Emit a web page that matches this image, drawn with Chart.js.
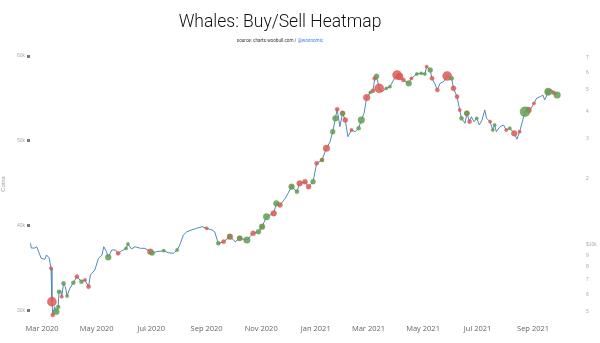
<!DOCTYPE html>
<html>
<head>
<meta charset="utf-8">
<script src="https://cdn.jsdelivr.net/npm/chart.js@4.4.1/dist/chart.umd.min.js"></script>
<style>
html, body { margin: 0; padding: 0; background: #fff; }
#wrap { width: 600px; height: 343px; }
</style>
</head>
<body>
<div id="wrap"><canvas id="heatmap"></canvas></div>
<script>
// x values are days counted from 2020-01-01 (day 60 = 1 Mar 2020)
const days = [47, 48, 52, 54, 59, 63, 65, 68, 70, 71, 72, 74, 76, 78, 79, 81, 82, 84, 86, 88,
  91, 95, 99, 104, 108, 112, 114, 119, 123, 127, 129, 132, 134, 138, 142, 145, 149, 154, 156, 160,
  164, 170, 175, 181, 183, 188, 196, 201, 207, 211, 214, 218, 222, 227, 233, 239, 244, 250, 253, 257,
  263, 270, 276, 281, 289, 296, 302, 306, 311, 319, 322, 326, 332, 335, 339, 345, 348, 354, 358, 363,
  367, 373, 378, 382, 385, 388, 390, 393, 396, 399, 402, 406, 410, 414, 417, 420, 423, 427, 430, 432,
  434, 437, 440, 445, 449, 453, 457, 460, 464, 470, 473, 479, 484, 488, 490, 494, 496, 499, 502, 505,
  509, 513, 518, 520, 524, 527, 529, 533, 535, 538, 540, 543, 546, 549, 552, 555, 557, 561, 564, 566,
  568, 572, 576, 579, 583, 588, 591, 594, 597, 600, 604, 607, 610, 613, 617, 620, 622, 626, 630, 632, 636];

const price = [10180, 9690, 9690, 9825, 8710, 8620, 9015, 8740, 7855, 5554, 4838, 5273, 5006, 5256, 6160, 6225, 5850, 6720, 6490, 5890,
  6380, 6760, 7200, 6835, 6960, 6490, 7325, 7715, 8710, 9015, 9825, 9330, 8805, 9495, 9495, 9175, 9396, 9664, 10104, 9594,
  9825, 9664, 9664, 9330, 9205, 9330, 9426, 9232, 9175, 9495, 10000, 11092, 11478, 11684, 11890, 12090, 11890, 11684, 11478, 10178,
  10348, 10900, 10348, 10720, 10532, 11290, 11478, 12090, 13410, 13890, 15410, 15140, 16235, 17100, 18310, 17385, 18960, 19280, 18310, 19280,
  23335, 24150, 27270, 29200, 32390, 37220, 40870, 34120, 39200, 36570, 30750, 32960, 32390, 33560, 36570, 39200, 46170, 48630, 49500, 56340,
  57520, 50800, 49030, 50800, 51650, 55350, 58320, 57300, 55350, 53490, 56340, 58920, 59340, 58920, 63570, 61420, 56340, 53490, 49910, 53490,
  54400, 57720, 56340, 50800, 46560, 40570, 37220, 35340, 39200, 35930, 37840, 35930, 37220, 34720, 36570, 40570, 37220, 35930, 32960, 34720,
  32390, 34120, 34720, 32960, 33560, 31850, 29930, 32390, 35930, 39860, 40570, 41290, 43480, 45800, 46560, 47390, 45000, 49030, 49910, 48530, 47390];

// whale sells (red) and buys (green): day and coins moved
const sellDays = [70, 71, 72, 82, 99, 108, 112, 145, 181, 244, 263, 270, 281, 296, 306, 319, 326, 339, 348, 354,
  358, 367, 373, 378, 390, 396, 399, 406, 423, 430, 432, 437, 457, 460, 464, 473, 490, 496, 502, 513,
  520, 524, 527, 535, 538, 561, 579, 588, 594, 604, 610, 626, 632];
const sellCoins = [1600, 12100, 2500, 1600, 2500, 1600, 2500, 2500, 4900, 1600, 2500, 4900, 3600, 3600, 2500, 4900, 3600, 1600, 4900, 3600,
  3600, 2500, 2500, 6400, 2500, 3600, 3600, 1600, 6400, 2500, 2500, 12100, 12100, 6400, 2500, 1600, 1600, 2500, 2500, 12100,
  3600, 2500, 1600, 3600, 2500, 1600, 1600, 4900, 1600, 4900, 1600, 3600, 2500];

const buyDays = [76, 78, 79, 84, 88, 95, 104, 134, 154, 156, 183, 196, 211, 257, 270, 281, 289, 302, 306, 311,
  322, 339, 345, 363, 373, 385, 388, 396, 414, 417, 427, 434, 445, 449, 470, 479, 484, 488, 494, 518,
  529, 535, 546, 564, 566, 583, 600, 626, 636];
const buyCoins = [4900, 2500, 2500, 2500, 1600, 2500, 2500, 4900, 1600, 1600, 3600, 1600, 1600, 2500, 2500, 3600, 6400, 3600, 4900, 6400,
  4900, 4900, 2500, 3600, 1600, 3600, 4900, 2500, 2500, 6400, 1600, 3600, 1600, 1600, 4900, 1600, 1600, 1600, 3600, 2500,
  2500, 3600, 1600, 1600, 1600, 1600, 14400, 8100, 6400];

const monthTicks = [60, 121, 182, 244, 305, 366, 425, 486, 547, 609];
const monthLabels = ['Mar 2020', 'May 2020', 'Jul 2020', 'Sep 2020', 'Nov 2020', 'Jan 2021', 'Mar 2021', 'May 2021', 'Jul 2021', 'Sep 2021'];
const priceTicks = [5000, 6000, 7000, 8000, 9000, 10000, 20000, 30000, 40000, 50000, 60000, 70000];
const coinTicks = [30000, 40000, 50000, 60000];

const linePoints = days.map((d, i) => ({ x: d, y: price[i] }));

function bubbles(list, coins) {
  return list.map((d, i) => ({ x: d, y: price[days.indexOf(d)], r: Math.sqrt(coins[i]) / 24 }));
}

const header = {
  id: 'header',
  afterDraw(chart) {
    const ctx = chart.ctx;
    const cx = 280;
    ctx.save();
    ctx.textBaseline = 'middle';
    ctx.textAlign = 'center';
    ctx.fillStyle = '#111';
    ctx.font = '300 17.5px Roboto';
    ctx.fillText('Whales: Buy/Sell Heatmap', cx, 23);

    ctx.font = '4.6px Roboto';
    const a = 'source: charts.woobull.com / ';
    const b = '@woonomic';
    const wa = ctx.measureText(a).width;
    const wb = ctx.measureText(b).width;
    const x0 = cx - (wa + wb) / 2;
    ctx.textAlign = 'left';
    ctx.fillStyle = '#333';
    ctx.fillText(a, x0, 41);
    ctx.fillStyle = '#3b7ddd';
    ctx.fillText(b, x0 + wa, 41);
    ctx.restore();
  }
};

const ctx = document.getElementById('heatmap').getContext('2d');
const chart = new Chart(ctx, {
  type: 'line',
  data: {
    datasets: [{
      type: 'bubble',
      label: 'Buy',
      data: bubbles(buyDays, buyCoins),
      backgroundColor: 'rgba(100, 160, 82, 0.85)',
      borderColor: 'rgba(80, 140, 65, 0.6)',
      borderWidth: 0.5,
      yAxisID: 'price',
      order: 1
    }, {
      type: 'bubble',
      label: 'Sell',
      data: bubbles(sellDays, sellCoins),
      backgroundColor: 'rgba(220, 92, 86, 0.85)',
      borderColor: 'rgba(200, 70, 65, 0.6)',
      borderWidth: 0.5,
      yAxisID: 'price',
      order: 2
    }, {
      label: 'Price',
      data: linePoints,
      borderColor: '#5289b8',
      borderWidth: 1,
      pointRadius: 0,
      tension: 0,
      fill: false,
      yAxisID: 'price',
      order: 3
    }]
  },
  options: {
    responsive: true,
    maintainAspectRatio: false,
    animation: false,
    layout: { padding: { top: 50 } },
    plugins: {
      legend: { display: false },
      tooltip: { enabled: false }
    },
    scales: {
      x: {
        type: 'linear',
        min: 46.5,
        max: 661.5,
        afterBuildTicks: axis => { axis.ticks = monthTicks.map(v => ({ value: v })); },
        afterFit: axis => { axis.height = 25; },
        grid: { display: false, drawTicks: false },
        border: { display: false },
        ticks: {
          autoSkip: false,
          maxRotation: 0,
          padding: 6,
          color: '#666',
          font: { family: 'Open Sans', size: 7.5 },
          callback: v => monthLabels[monthTicks.indexOf(v)]
        }
      },
      coins: {
        type: 'linear',
        position: 'left',
        min: 29176,
        max: 60706,
        afterBuildTicks: axis => { axis.ticks = coinTicks.map(v => ({ value: v })); },
        afterFit: axis => { axis.width = 30; },
        grid: { drawOnChartArea: false, drawTicks: true, tickLength: 3, tickWidth: 3, color: '#777' },
        border: { display: false },
        title: { display: true, text: 'Coins', color: '#999', font: { size: 6 }, padding: 0 },
        ticks: {
          padding: 2,
          color: '#aaa',
          font: { size: 5 },
          callback: v => (v / 1000) + 'k'
        }
      },
      price: {
        type: 'logarithmic',
        position: 'right',
        min: 4690,
        max: 75580,
        afterBuildTicks: axis => { axis.ticks = priceTicks.map(v => ({ value: v })); },
        afterFit: axis => { axis.width = 20; },
        grid: { display: false, drawTicks: false },
        border: { display: false },
        ticks: {
          padding: 6,
          color: '#aaa',
          font: { size: 5 },
          callback: v => v === 10000 ? '$10k' : String(Math.round(v / Math.pow(10, Math.floor(Math.log10(v)))))
        }
      }
    }
  },
  plugins: [header]
});
</script>
</body>
</html>
